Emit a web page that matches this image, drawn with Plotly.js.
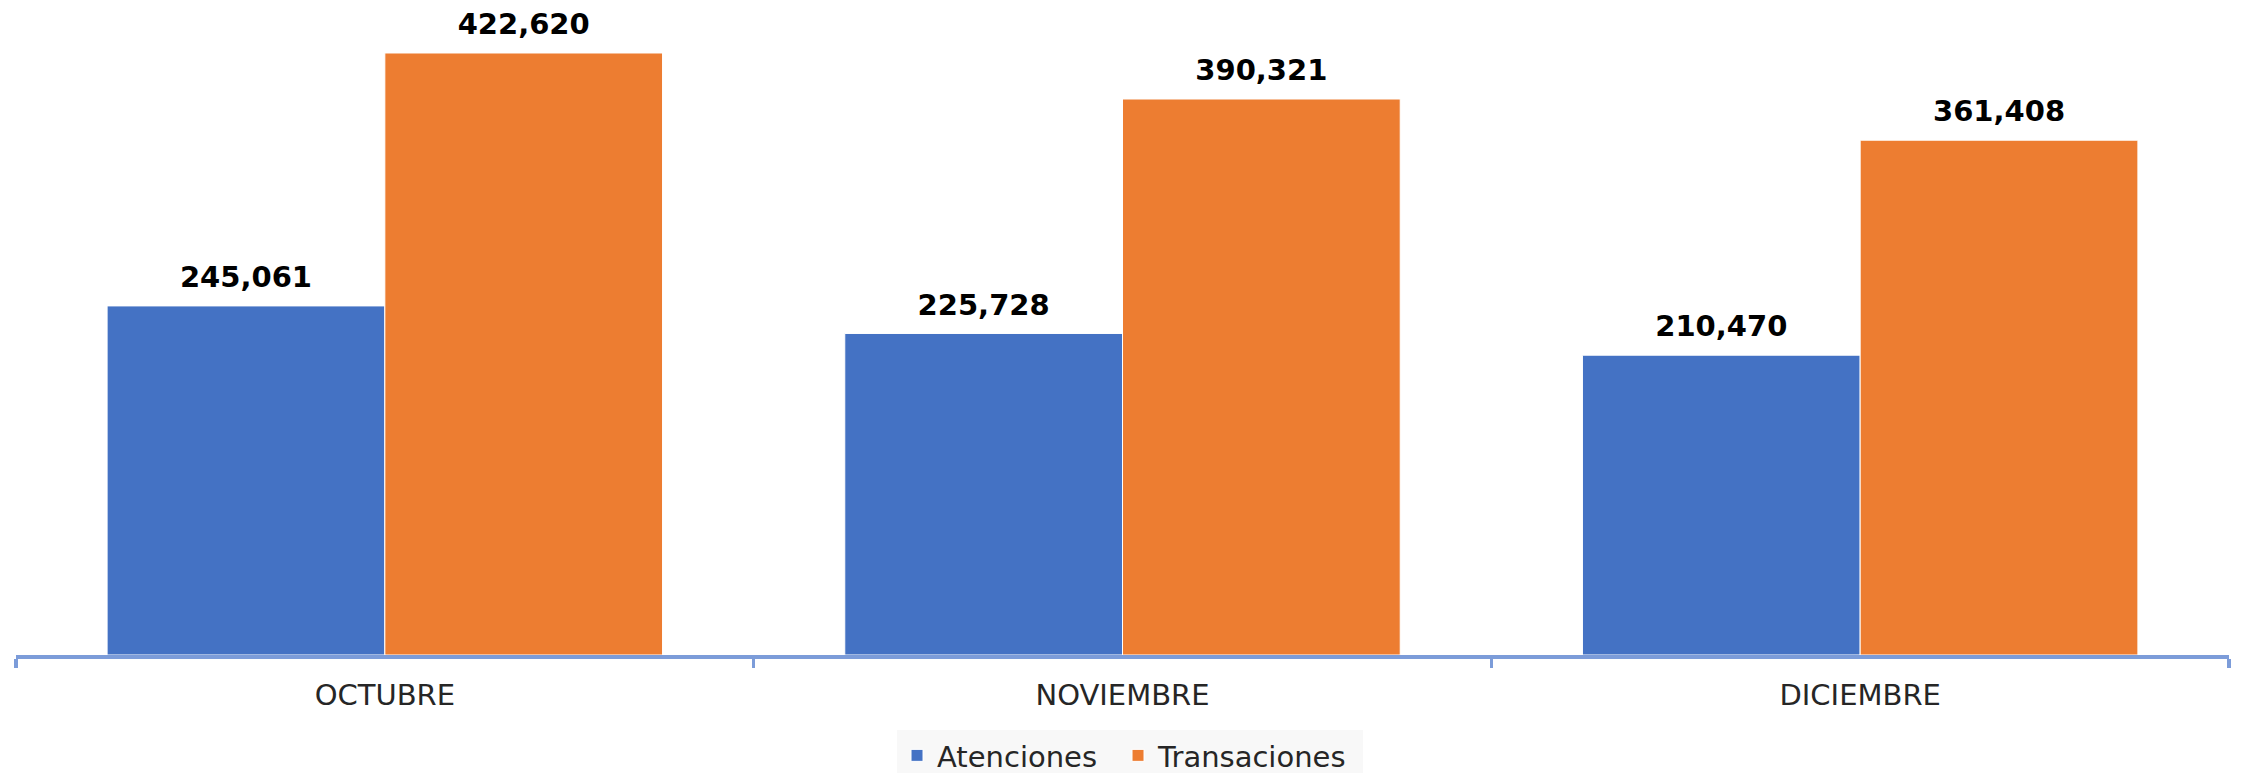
<!DOCTYPE html>
<html><head><meta charset="utf-8">
<script src="https://cdn.plot.ly/plotly-3.0.1.min.js"></script>
<style>html,body{margin:0;padding:0;background:#fff}#chart{width:2242px;height:773px}</style>
</head><body><div id="chart"></div>
<script>
const months = ['OCTUBRE', 'NOVIEMBRE', 'DICIEMBRE'];
const atenciones = [245061, 225728, 210470];
const transaciones = [422620, 390321, 361408];
const seriesNames = ['Atenciones', 'Transaciones'];
const seriesColors = ['#4472C4', '#ED7D31'];
const legendWidths = [176, 200];

const fmt = v => v.toLocaleString('en-US');
const allSeries = [atenciones, transaciones];

const traces = [];
allSeries.forEach((vals, i) => {
  traces.push({
    type: 'bar', name: seriesNames[i], x: months, y: vals,
    offsetgroup: 'g' + i, legendwidth: legendWidths[i],
    marker: {color: seriesColors[i], line: {color: '#ffffff', width: 1}},
    hoverinfo: 'skip'
  });
});
allSeries.forEach((vals, i) => {
  traces.push({
    type: 'scatter', mode: 'markers+text', x: months, y: vals,
    offsetgroup: 'g' + i, showlegend: false, hoverinfo: 'skip',
    text: vals.map(fmt), textposition: 'top center', cliponaxis: false,
    marker: {size: 17, opacity: 0},
    textfont: {family: 'DejaVu Sans', size: 29, color: '#000000', weight: 'bold'}
  });
});

const axisColor = '#7C9CD9';
const layout = {
  width: 2242, height: 773,
  margin: {l: 16, r: 13, t: 10, b: 118, autoexpand: false},
  paper_bgcolor: '#ffffff', plot_bgcolor: '#ffffff',
  barmode: 'group', bargap: 0.247, bargroupgap: 0,
  scattermode: 'group',
  showlegend: true,
  xaxis: {
    type: 'category', showline: true, linecolor: axisColor, linewidth: 3.5,
    ticks: 'outside', tickson: 'boundaries', ticklen: 9, tickwidth: 3.5, tickcolor: axisColor,
    showgrid: false, zeroline: false,
    tickfont: {family: 'DejaVu Sans', size: 29, color: '#262626'},
    ticklabelstandoff: 12
  },
  yaxis: {visible: false, range: [0, 452800], showgrid: false, zeroline: false},
  legend: {
    orientation: 'h', x: 0.5034, xanchor: 'center', y: -0.1163, yanchor: 'top',
    bgcolor: '#f8f8f8', font: {family: 'DejaVu Sans', size: 29, color: '#262626'},
    itemclick: false, itemdoubleclick: false
  },
  font: {family: 'DejaVu Sans'}
};
Plotly.newPlot('chart', traces, layout, {displayModeBar: false, staticPlot: true});
</script></body></html>
